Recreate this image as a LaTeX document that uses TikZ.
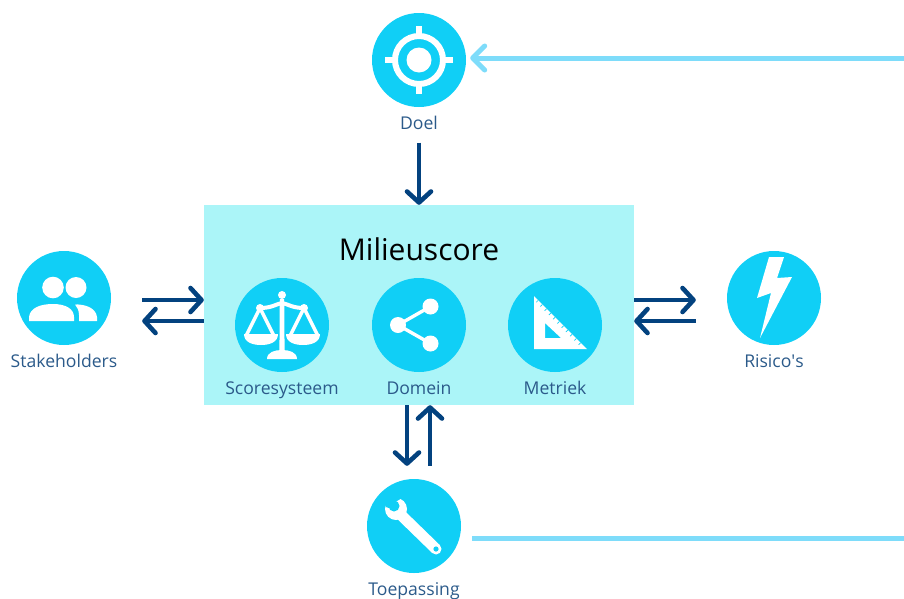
\documentclass[tikz,border=0pt]{standalone}
\usepackage{fontspec}
\setmainfont{Open Sans}
\usepackage{xcolor}
\usetikzlibrary{positioning,arrows.meta,calc}
\definecolor{discblue}{HTML}{10CFF6}
\definecolor{panelblue}{HTML}{ABF5F8}
\definecolor{flowblue}{HTML}{03427F}
\definecolor{goalblue}{HTML}{7EDCFA}
\definecolor{labelblue}{HTML}{2B5A8A}
\tikzset{
  disc/.style={circle,fill=discblue,minimum size=94pt,inner sep=0pt},
  caption/.style={font=\fontsize{17.6}{20}\selectfont,text=labelblue,inner sep=0pt,text height=12pt,text depth=4pt,below=10pt of #1},
  flow/.style={draw=flowblue,line width=4.6pt,-{Straight Barb[length=11pt,width=24pt,line width=4.6pt,round]}},
  goal/.style={draw=goalblue,line width=5pt}
}
\begin{document}
\begin{tikzpicture}[x=1pt,y=-1pt]
    \useasboundingbox (0,0) rectangle (904,598);
    \node [fill=panelblue,minimum width=430pt,minimum height=200pt,inner sep=0pt] (milieu) at (419,305) {};
    \node [font=\fontsize{30}{34}\selectfont,inner sep=0pt] (title) at (419,249) {Milieuscore};

    \node [disc] (doel) at (419,60) {};
    \node [disc] (stakeholders) at (64,298) {};
    \node [disc] (risicos) at (774,298) {};
    \node [disc] (toepassing) at (414,526) {};
    \node [disc] (score) at (282,325) {};
    \node [disc] (domein) at (419,325) {};
    \node [disc] (metriek) at (555,325) {};

    \node [caption=doel] (doellabel) {Doel};
    \node [caption=stakeholders] (stakeholderslabel) {Stakeholders};
    \node [caption=risicos] (risicoslabel) {Risico\textquotesingle s};
    \node [caption=toepassing] (toepassinglabel) {Toepassing};
    \node [caption=score] (scorelabel) {Scoresysteem};
    \node [caption=domein] (domeinlabel) {Domein};
    \node [caption=metriek] (metrieklabel) {Metriek};

    % icons
    \begin{scope}[shift={(doel.center)},white]
      \draw [line width=6pt] (0,0) circle (24);
      \fill (0,0) circle (12.5);
      \foreach \a in {0,90,180,270}
        \draw [rotate=\a,line width=6.5pt] (24,0) -- (34,0);
    \end{scope}
    \begin{scope}[shift={(score.center)},white]
      \fill (0,-30) circle (4);
      \fill (-2.2,-26) -- (2.2,-26) -- (2.6,28) -- (-2.6,28) -- cycle;
      \draw [line width=4pt] (-22,-17) .. controls (-10,-17) and (-6,-21) .. (0,-22) .. controls (6,-21) and (10,-17) .. (22,-17);
      \fill (-22,-17) circle (4);
      \fill (22,-17) circle (4);
      \draw [line width=3.4pt] (-36,11) -- (-22,-17) -- (-8,11);
      \draw [line width=3.4pt] (8,11) -- (22,-17) -- (36,11);
      \fill (-38,9) -- (-4,9) .. controls (-4,17) and (-12,20) .. (-21,20) .. controls (-30,20) and (-38,17) .. (-38,9) -- cycle;
      \fill (4,9) -- (38,9) .. controls (38,17) and (30,20) .. (21,20) .. controls (12,20) and (4,17) .. (4,9) -- cycle;
      \fill (-15,34) .. controls (-15,27) and (-7,25) .. (0,25) .. controls (7,25) and (15,27) .. (15,34) -- cycle;
    \end{scope}
    \begin{scope}[shift={(domein.center)},white]
      \draw [line width=3.4pt] (11.5,-18.5) -- (-21,0) -- (11.5,18.5);
      \fill (11.5,-18.5) circle (8);
      \fill (-21,0) circle (8);
      \fill (11.5,18.5) circle (8);
    \end{scope}
    \begin{scope}[shift={(metriek.center)}]
      \fill [white,even odd rule] (-21,-29) -- (32,24) -- (-21,24) -- cycle
        (-10,-2) -- (-10,13) -- (6,13) -- cycle;
      \foreach \t in {0.08,0.16,...,0.9}
        \draw [discblue,line width=0.7pt] ($(-21,-29)!\t!(32,24)$) -- ++(-2,2);
    \end{scope}
    \begin{scope}[shift={(stakeholders.center)},white]
      \fill (-11,-10.5) circle (10.8);
      \fill (12,-10.5) circle (10.5);
      \fill (-35,23) -- (-35,19) .. controls (-34,10) and (-24,6) .. (-11,6) .. controls (2,6) and (10,11) .. (10,19) -- (10,23) -- cycle;
      \fill (11,6.5) .. controls (19,6) and (32,9) .. (33,19) -- (33,23) -- (15,23) -- (15,17) .. controls (15,12) and (13,9) .. (11,6.5) -- cycle;
    \end{scope}
    \begin{scope}[shift={(risicos.center)}]
      \fill [white] (-5,-41) -- (10,-41) -- (3,-20) -- (18,-21) -- (-14,40) -- (-3,-5) -- (-17,0) -- cycle;
    \end{scope}
    \begin{scope}[shift={(toepassing.center)}]
      \fill [white] (-18,-17) circle (11);
      \draw [white,line width=11pt,line cap=round] (-14,-12) -- (22,23);
      \fill [discblue] (-20,-20) circle (5.5);
      \fill [discblue] (-25,-18) -- (-28,-19) -- (-34,-32) -- (-20,-40) -- (-12,-28) -- (-17,-25) -- cycle;
      \fill [discblue] (22,23) circle (2.6);
    \end{scope}

    % connectors
    \coordinate (doelend) at (904,58);
    \coordinate (toepassingend) at (904,538);
    \draw [goal,-{Straight Barb[length=12pt,width=24pt,line width=5pt,round]},shorten >=4pt] (doelend) -- ([yshift=2pt]doel.east);
    \draw [goal,shorten <=11pt] ([yshift=-12pt]toepassing.east) -- (toepassingend);
    \draw [flow,shorten <=9pt] (doellabel.south) -- (milieu.north);
    \draw [flow,shorten <=31pt] ([yshift=-2pt]stakeholders.east) -- ([yshift=5pt]milieu.west);
    \draw [flow,shorten >=31pt] ([yshift=-16pt]milieu.west) -- ([yshift=-23pt]stakeholders.east);
    \draw [flow,shorten >=31pt] ([yshift=5pt]milieu.east) -- ([yshift=-2pt]risicos.west);
    \draw [flow,shorten <=31pt] ([yshift=-23pt]risicos.west) -- ([yshift=-16pt]milieu.east);
    \draw [flow,shorten >=13pt] ([xshift=-12pt]milieu.south) -- ([xshift=-7pt]toepassing.north);
    \draw [flow,shorten <=13pt] ([xshift=16pt]toepassing.north) -- ([xshift=11pt]milieu.south);
\end{tikzpicture}
\end{document}
